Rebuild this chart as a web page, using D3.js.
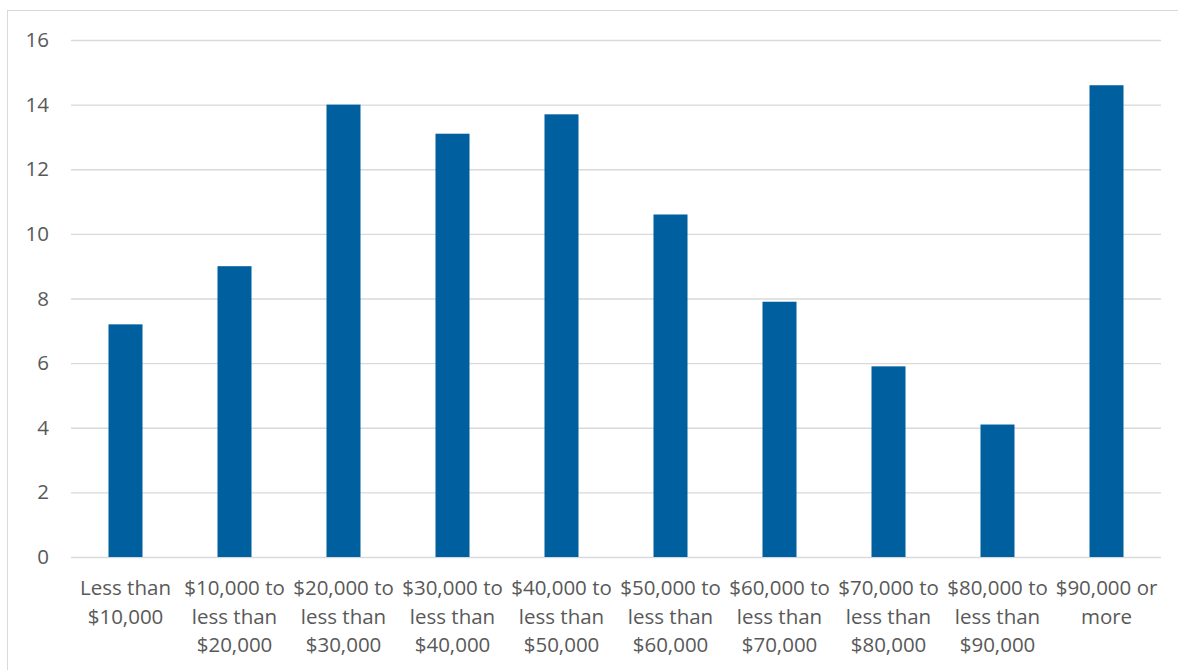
<!DOCTYPE html>
<html>
<head>
<meta charset="utf-8">
<script src="https://cdn.jsdelivr.net/npm/d3@7"></script>
<style>
  html, body { margin: 0; padding: 0; background: #fff; }
  svg { display: block; }
  text { font-family: "Open Sans", "Liberation Sans", sans-serif; fill: #595959; }
</style>
</head>
<body>
<svg id="chart" width="1178" height="670"></svg>
<script>
// Income brackets (each label split into its display lines)
const categories = [
  ["Less than", "$10,000"],
  ["$10,000 to", "less than", "$20,000"],
  ["$20,000 to", "less than", "$30,000"],
  ["$30,000 to", "less than", "$40,000"],
  ["$40,000 to", "less than", "$50,000"],
  ["$50,000 to", "less than", "$60,000"],
  ["$60,000 to", "less than", "$70,000"],
  ["$70,000 to", "less than", "$80,000"],
  ["$80,000 to", "less than", "$90,000"],
  ["$90,000 or", "more"]
];
const values = [7.2, 9.0, 14.0, 13.1, 13.7, 10.6, 7.9, 5.9, 4.1, 14.6];
const yTicks = [0, 2, 4, 6, 8, 10, 12, 14, 16];

const svg = d3.select("#chart");
const W = 1178, H = 670;
const margin = { left: 71, right: 17, top: 40, bottom: 113 };
const fontSize = "20.5px";

// Chart frame
svg.append("rect")
  .attr("x", 7.5).attr("y", 10.5)
  .attr("width", W).attr("height", H)
  .attr("fill", "none").attr("stroke", "#d9d9d9").attr("stroke-width", 1);

const x = d3.scaleBand()
  .domain(d3.range(categories.length))
  .range([margin.left, W - margin.right])
  .paddingInner(0.688).paddingOuter(0.344);

const y = d3.scaleLinear()
  .domain([0, 16])
  .range([H - margin.bottom, margin.top]);

// Horizontal gridlines
const yAxis = d3.axisLeft(y).tickValues(yTicks).tickSize(-(W - margin.right - margin.left)).tickPadding(22);
const gy = svg.append("g").attr("transform", `translate(${margin.left},0)`).call(yAxis);
gy.select(".domain").remove();
gy.selectAll(".tick line").attr("stroke", "#d9d9d9").attr("stroke-width", 1.3);
gy.selectAll(".tick text").style("font-size", fontSize).attr("fill", "#595959");

// Bars
svg.append("g").selectAll("rect")
  .data(values)
  .join("rect")
  .attr("x", (d, i) => x(i))
  .attr("width", x.bandwidth())
  .attr("y", d => y(d))
  .attr("height", d => y(0) - y(d))
  .attr("fill", "#005f9e");

// Category labels
const labels = svg.append("g").selectAll("text")
  .data(categories)
  .join("text")
  .attr("text-anchor", "middle")
  .style("font-size", fontSize)
  .attr("transform", (d, i) => `translate(${x(i) + x.bandwidth() / 2},${y(0) + 38})`);
labels.selectAll("tspan")
  .data(d => d)
  .join("tspan")
  .attr("x", 0)
  .attr("y", (d, j) => j * 28.5)
  .text(d => d);
</script>
</body>
</html>
